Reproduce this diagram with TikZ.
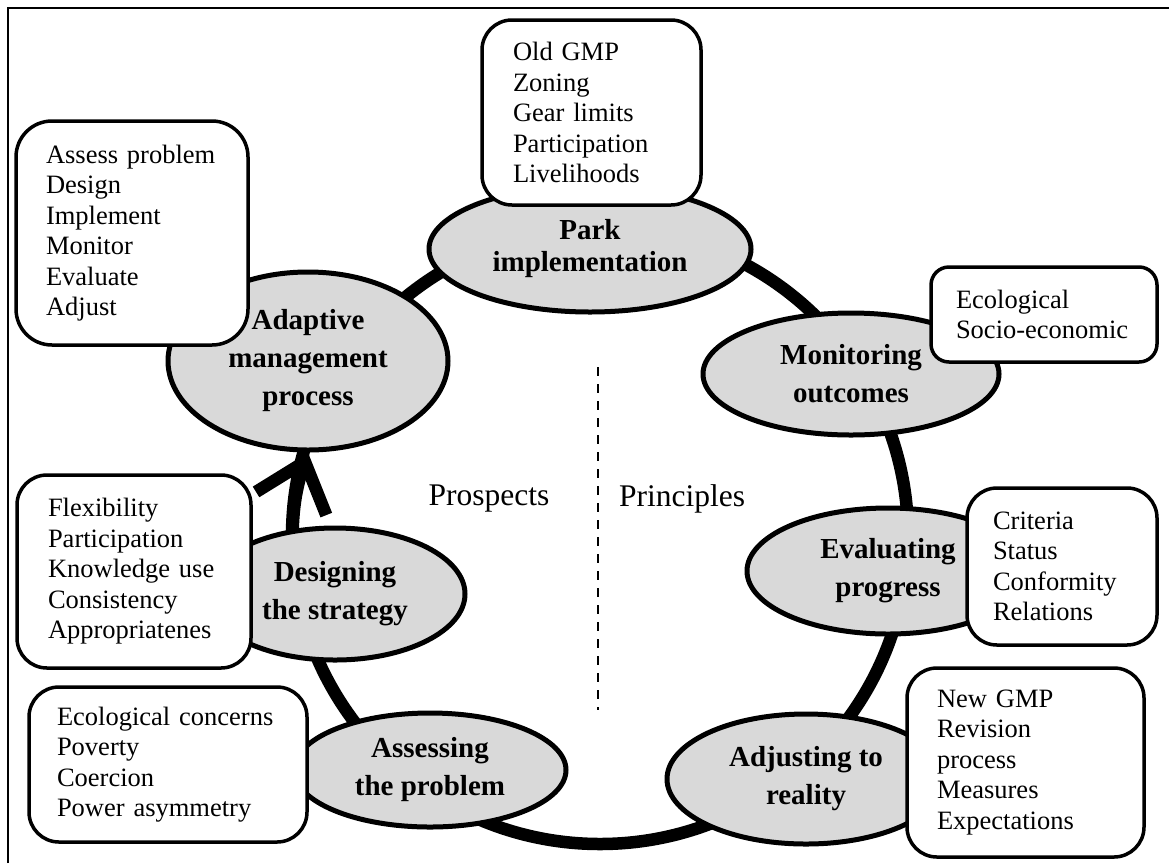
\documentclass[tikz,border=0pt]{standalone}
\usepackage{fontspec}
\setmainfont{Liberation Serif}
\usetikzlibrary{arrows.meta,shapes.geometric,backgrounds}

\begin{document}
\begin{tikzpicture}[x=1pt, y=-1pt]
    % Colors and styles
    \definecolor{stagegray}{RGB}{217,217,217}
    \tikzstyle{stage}=[ellipse, draw, line width=5pt, fill=stagegray, align=center, inner sep=0pt, font=\fontsize{29pt}{38pt}\selectfont\bfseries]
    \tikzstyle{itemlist}=[draw, line width=3.5pt, fill=white, rounded corners=30pt, anchor=north west, outer sep=0pt, align=left, inner ysep=0pt, font=\fontsize{26.5pt}{30.5pt}\selectfont]
    \tikzstyle{ring}=[line width=12.5pt]

    % Page and outer frame
    \useasboundingbox (0,0) rectangle (1169,863);
    \draw[line width=2pt] (7.5,863) -- (7.5,7.5) -- (1169,7.5);

    % Stages of the cycle
    \node[stage, minimum width=322pt, minimum height=126pt, font=\fontsize{29pt}{32pt}\selectfont\bfseries] (park) at (590,249) {Park\\implementation};
    \node[stage, minimum width=280pt, minimum height=178pt] (adapt) at (308,361) {Adaptive\\management\\process};
    \node[stage, minimum width=296pt, minimum height=122pt] (monit) at (851,374) {Monitoring\\outcomes};
    \node[stage, minimum width=282pt, minimum height=126pt] (evalu) at (888,571) {Evaluating\\progress};
    \node[stage, minimum width=278pt, minimum height=130pt] (adjust) at (806,779) {Adjusting to\\reality};
    \node[stage, minimum width=272pt, minimum height=114pt] (assess) at (430,770) {Assessing\\the problem};
    \node[stage, minimum width=260pt, minimum height=132pt] (design) at (335,594) {Designing\\the strategy};

    % Item lists beside the stages
    \node[itemlist, minimum width=232pt, minimum height=224pt, inner xsep=30pt, text width=172pt, rounded corners=36pt] (adaptlist) at (16,121)
        {Assess problem\\Design\\Implement\\Monitor\\Evaluate\\Adjust};
    \node[itemlist, minimum width=219pt, minimum height=185pt, inner xsep=31pt, text width=157pt] (parklist) at (482,20)
        {Old GMP\\Zoning\\Gear limits\\Participation\\Livelihoods};
    \node[itemlist, minimum width=226pt, minimum height=95pt, inner xsep=25pt, text width=176pt, rounded corners=18pt] (monitlist) at (931,267)
        {Ecological\\Socio-economic};
    \node[itemlist, minimum width=190pt, minimum height=157pt, inner xsep=26pt, text width=138pt] (evallist) at (967,488)
        {Criteria\\Status\\Conformity\\Relations};
    \node[itemlist, minimum width=237pt, minimum height=189pt, inner xsep=30pt, text width=177pt] (adjustlist) at (907,668)
        {New GMP\\Revision\\process\\Measures\\Expectations};
    \node[itemlist, minimum width=278pt, minimum height=155pt, inner xsep=28pt, text width=222pt] (assesslist) at (29,687)
        {Ecological concerns\\Poverty\\Coercion\\Power asymmetry};
    \node[itemlist, minimum width=234pt, minimum height=193pt, inner xsep=31pt, text width=172pt] (designlist) at (17,475)
        {Flexibility\\Participation\\Knowledge use\\Consistency\\Appropriatenes};

    % Two halves of the cycle
    \draw[line width=1.8pt, dash pattern=on 9pt off 8pt] (598,367) -- (598,710);
    \node[font=\fontsize{31.5pt}{36pt}\selectfont] (prospects) at (489,499) {Prospects};
    \node[font=\fontsize{31.5pt}{36pt}\selectfont] (principles) at (682,499) {Principles};

    % The cycle itself, behind the stages
    \begin{scope}[on background layer]
        \coordinate (ctr) at (600,536);
        \draw[ring] (ctr) circle[radius=308pt];
        \path (ctr) ++(184:308pt) coordinate (shaft);
        \draw[ring, -{Straight Barb[length=44pt, width=74pt]}] (shaft) to[bend left=10] (adapt.south);
    \end{scope}
\end{tikzpicture}
\end{document}
